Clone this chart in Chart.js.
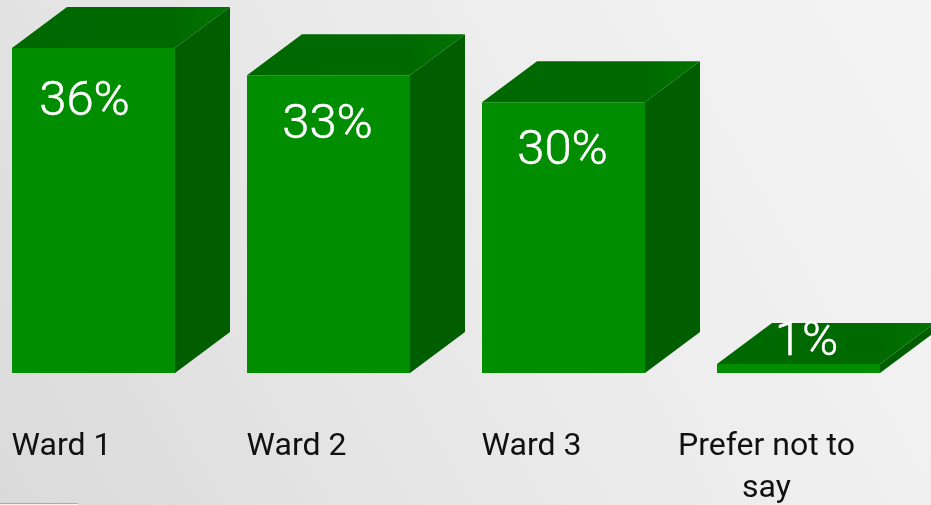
<!DOCTYPE html>
<html>
<head>
<meta charset="utf-8">
<title>Ward chart</title>
<script src="https://cdn.jsdelivr.net/npm/chart.js"></script>
<style>
    html, body { margin: 0; padding: 0; width: 931px; height: 505px; overflow: hidden; }
    body { position: relative; background: linear-gradient(60deg, #dadada 0%, #e6e6e6 35%, #eeeeee 65%, #f4f4f4 100%); }
    #chart { position: absolute; left: -24px; top: 0; }
    #stub { position: absolute; left: 0; top: 503px; width: 78px; height: 2px; background: #f4f4f4; border-top: 1px solid #aaa; box-sizing: border-box; }
</style>
</head>
<body>
<!-- canvas runs past the window so the last tick label doesn't squeeze the axis -->
<canvas id="chart" width="1115" height="505"></canvas>
<div id="stub"></div>
<script>
const categories = ['Ward 1', 'Ward 2', 'Ward 3', ['Prefer not to', 'say']];
const values = [36, 33, 30, 1];
const valueLabels = ['36%', '33%', '30%', '1%'];

// where each percent label sits relative to the bar's centre and top
const labelShiftX = [-9, -1, -1, 8];
const labelShiftY = [55, 51, 49, -21];

const DEPTH_X = 55;
const DEPTH_Y = 41;

function face(ctx, points, color) {
    ctx.beginPath();
    points.forEach((p, i) => i ? ctx.lineTo(p[0], p[1]) : ctx.moveTo(p[0], p[1]));
    ctx.closePath();
    ctx.fillStyle = color;
    ctx.fill();
}

const boxFaces = {
    id: 'boxFaces',
    beforeDatasetsDraw(chart) {
        const { ctx } = chart;
        chart.getDatasetMeta(0).data.forEach(bar => {
            const left = bar.x - bar.width / 2;
            const right = bar.x + bar.width / 2;
            ctx.save();
            // top, a little lighter towards the back right corner
            const topFill = ctx.createLinearGradient(left, bar.y, right + DEPTH_X, bar.y - DEPTH_Y);
            topFill.addColorStop(0, '#006800');
            topFill.addColorStop(0.75, '#006a00');
            topFill.addColorStop(1, '#007400');
            face(ctx, [[left, bar.y], [right, bar.y], [right + DEPTH_X, bar.y - DEPTH_Y], [left + DEPTH_X, bar.y - DEPTH_Y]], topFill);
            // side
            face(ctx, [[right, bar.y], [right + DEPTH_X, bar.y - DEPTH_Y], [right + DEPTH_X, bar.base - DEPTH_Y], [right, bar.base]], '#005e00');
            ctx.restore();
        });
    },
    afterDatasetsDraw(chart) {
        const { ctx } = chart;
        ctx.save();
        ctx.fillStyle = '#ffffff';
        ctx.strokeStyle = '#ffffff';
        ctx.lineWidth = 0.5;
        ctx.font = '300 49px Roboto';
        ctx.textAlign = 'center';
        ctx.textBaseline = 'middle';
        chart.getDatasetMeta(0).data.forEach((bar, i) => {
            const x = bar.x + labelShiftX[i];
            const y = bar.y + labelShiftY[i];
            ctx.fillText(valueLabels[i], x, y);
            ctx.strokeText(valueLabels[i], x, y);
        });
        ctx.restore();
    }
};

new Chart(document.getElementById('chart'), {
    type: 'bar',
    data: {
        labels: categories,
        datasets: [{
            data: values,
            backgroundColor: '#008d00',
            borderWidth: 0,
            barPercentage: 163 / 235,
            categoryPercentage: 1
        }]
    },
    options: {
        responsive: false,
        animation: false,
        layout: { autoPadding: false, padding: { top: 12, right: 175, left: 0, bottom: 0 } },
        plugins: { legend: { display: false }, tooltip: { enabled: false } },
        scales: {
            x: {
                grid: { display: false },
                border: { display: false },
                afterFit: scale => { scale.height = 132; },
                ticks: {
                    color: '#111111',
                    font: { family: 'Roboto', size: 32, lineHeight: 1.31 },
                    padding: 45,
                    labelOffset: -32,
                    maxRotation: 0,
                    autoSkip: false
                }
            },
            y: { display: false, min: 0, max: 40 }
        }
    },
    plugins: [boxFaces]
});
</script>
</body>
</html>
